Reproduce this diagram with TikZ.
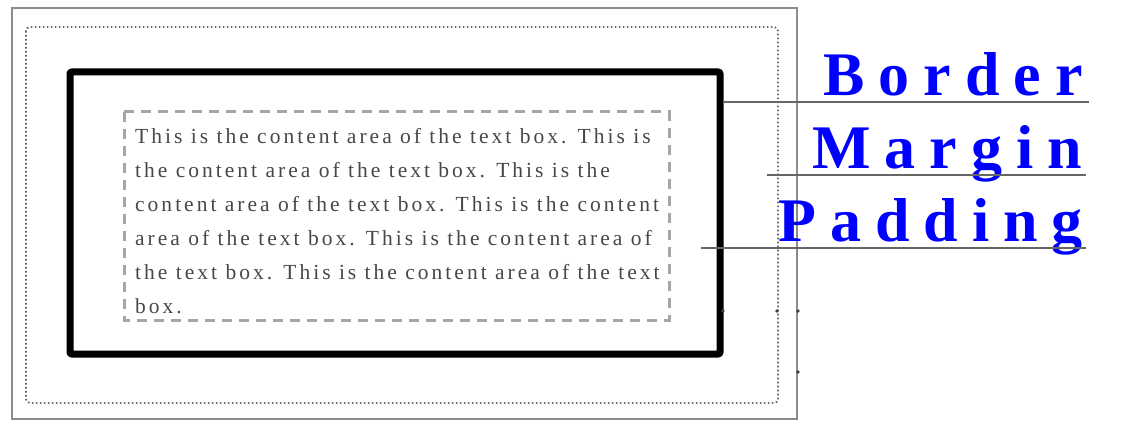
\documentclass[tikz,border=0pt]{standalone}
\usepackage{fontspec}
\setmainfont{Liberation Serif}
\newfontfamily\bodyfont[LetterSpace=14]{Liberation Serif}
\newfontfamily\labelfont[LetterSpace=22.6]{Liberation Serif}
\usetikzlibrary{positioning, calc}

\begin{document}
\begin{tikzpicture}[
        x=1pt, y=-1pt,
        outerbox/.style={draw=black!45, line width=1.6pt},
        marginbox/.style={draw=black!60, line width=1.8pt, dash pattern=on 1.6pt off 2.4pt, rounded corners=4pt},
        borderbox/.style={draw=black, line width=7pt, rounded corners=2pt},
        paddingbox/.style={draw=black!35, line width=3pt, dash pattern=on 10pt off 7pt},
        content/.style={anchor=north west, inner sep=0pt, align=left, text=black!72, font=\bodyfont\fontsize{21.5}{34}\selectfont},
        boxlabel/.style={anchor=base west, inner sep=0pt, text=blue, font=\labelfont\bfseries\fontsize{62}{62}\selectfont},
        leader/.style={draw=black!60, line width=1.8pt},
        tick/.style={fill=black!75}
    ]
        \useasboundingbox (0,0) rectangle (1126,435);

        % nested boxes
        \draw[outerbox] (12,8) rectangle (797,419);
        \draw[marginbox] (26,27) rectangle (778,403);
        \draw[borderbox] (70,72) rectangle (720,354);
        \draw[paddingbox] (124,112) rectangle (669,320);

        \node[content] (text) at (135,128.5) {This is the content area of the text box. This is\\
            the content area of the text box. This is the\\
            content area of the text box. This is the content\\
            area of the text box. This is the content area of\\
            the text box. This is the content area of the text\\
            box.};

        % labels
        \node[boxlabel] (border) at (823,96) {Border};
        \node[boxlabel] (margin) at (812,169) {Margin};
        \node[boxlabel] (padding) at (778,242) {Padding};

        \coordinate (borderfrom) at (723,102);
        \coordinate (borderto) at (1089,102);
        \coordinate (marginfrom) at (767,175);
        \coordinate (marginto) at (1086,175);
        \coordinate (paddingfrom) at (701,248);
        \coordinate (paddingto) at (1086,248);

        \draw[leader] (borderfrom) -- (borderto);
        \draw[leader] (marginfrom) -- (marginto);
        \draw[leader] (paddingfrom) -- (paddingto);

        % small marks
        \foreach \mx/\my in {723/311, 777/311, 798/311, 798/372}
            \fill[tick] (\mx,\my) circle (1.8pt);
    \end{tikzpicture}
\end{document}
